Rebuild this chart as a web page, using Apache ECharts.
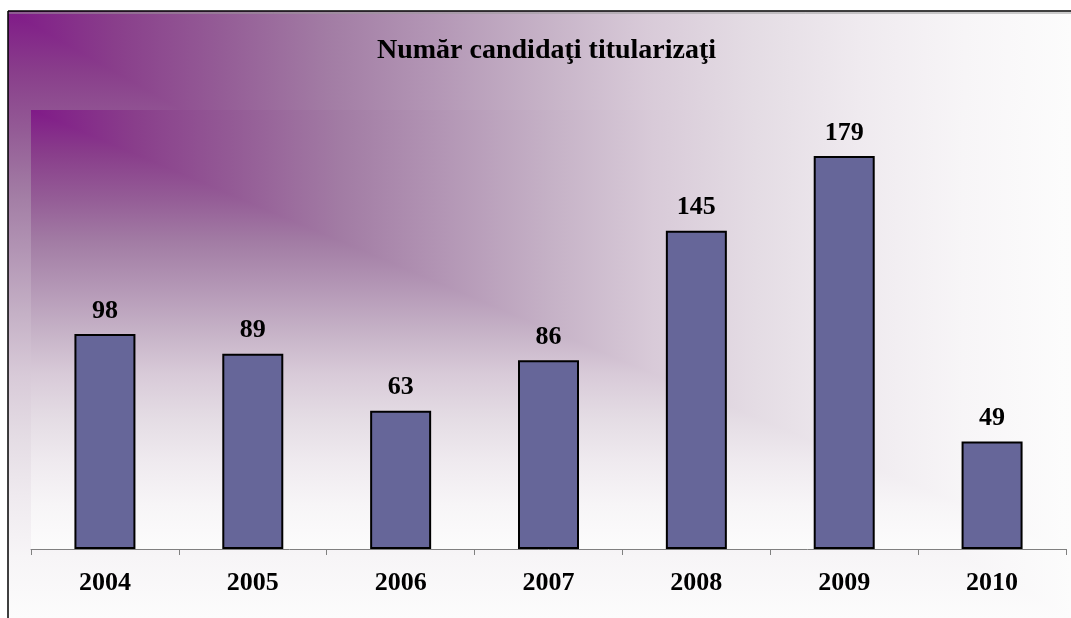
<!DOCTYPE html>
<html>
<head>
<meta charset="utf-8">
<script src="https://cdn.jsdelivr.net/npm/echarts@6/dist/echarts.min.js"></script>
<style>
  html, body { margin: 0; padding: 0; background: #fff; }
  #chart { width: 1071px; height: 618px; }
</style>
</head>
<body>
<div id="chart"></div>
<script>
var titlu = "Număr candidaţi titularizaţi";
var ani = ["2004", "2005", "2006", "2007", "2008", "2009", "2010"];
var candidati = [98, 89, 63, 86, 145, 179, 49];

// "from corner" fill like the office chart: purple top-left fading to white
var fade = [
  [0, "#801a88"], [0.1, "#893e8b"], [0.2, "#945c96"], [0.3, "#a27ca4"],
  [0.4, "#b396b5"], [0.5, "#c5b1c6"], [0.6, "#d8cad8"], [0.7, "#e4dce4"],
  [0.8, "#efeaef"], [0.9, "#f7f5f7"], [1, "#fcfcfc"]
];

function grad(horiz) {
  return {
    type: "linear", x: 0, y: 0, x2: horiz ? 1 : 0, y2: horiz ? 0 : 1,
    colorStops: fade.map(function (s) { return { offset: s[0], color: s[1] }; })
  };
}

// whole rect with the vertical fade, then the upper-right triangle with the horizontal one
function cornerFill(x, y, w, h, z) {
  return [
    { type: "rect", z: z, silent: true,
      shape: { x: x, y: y, width: w, height: h },
      style: { fill: grad(false) } },
    { type: "polygon", z: z + 1, silent: true,
      shape: { points: [[x, y], [x + w, y], [x + w, y + h]] },
      style: { fill: grad(true) } }
  ];
}

var gridL = 31, gridT = 110, gridR = 5, gridB = 69;

var gfx = []
  .concat(cornerFill(8, 11, 1063, 607, -20))
  .concat(cornerFill(gridL, gridT, 1071 - gridL - gridR, 618 - gridT - gridB, -10))
  .concat([
    { type: "line", z: 5, shape: { x1: 8, y1: 13, x2: 1071, y2: 13 }, style: { stroke: "#9a9a9a", lineWidth: 1 } },
    { type: "line", z: 5, shape: { x1: 8, y1: 11, x2: 1071, y2: 11 }, style: { stroke: "#000", lineWidth: 1.5 } },
    { type: "line", z: 5, shape: { x1: 8, y1: 11, x2: 8, y2: 618 }, style: { stroke: "#000", lineWidth: 1.5 } }
  ]);

var myChart = echarts.init(document.getElementById("chart"));
var option = {
  backgroundColor: "#fff",
  animation: false,
  title: {
    text: titlu,
    left: 377,
    top: 37,
    padding: 0,
    textStyle: {
      fontFamily: "Liberation Serif",
      fontWeight: "bold",
      fontSize: 28,
      color: "#000"
    }
  },
  graphic: gfx,
  grid: { left: gridL, top: gridT, right: gridR, bottom: gridB, containLabel: false },
  xAxis: {
    type: "category",
    data: ani,
    axisLine: { lineStyle: { color: "#808080", width: 1 } },
    axisTick: { show: true, length: 6, lineStyle: { color: "#808080" } },
    axisLabel: {
      margin: 21,
      fontFamily: "Liberation Serif",
      fontWeight: "bold",
      fontSize: 26,
      color: "#000"
    },
    splitLine: { show: false }
  },
  yAxis: {
    type: "value",
    min: 0,
    max: 200,
    show: false,
    splitLine: { show: false }
  },
  series: [
    {
      type: "bar",
      data: candidati,
      barWidth: 61,
      itemStyle: { color: "#666699", borderColor: "#000", borderWidth: 2 },
      label: {
        show: true,
        position: "top",
        distance: 10,
        fontFamily: "Liberation Serif",
        fontWeight: "bold",
        fontSize: 26,
        color: "#000"
      }
    }
  ]
};
myChart.setOption(option);
</script>
</body>
</html>
